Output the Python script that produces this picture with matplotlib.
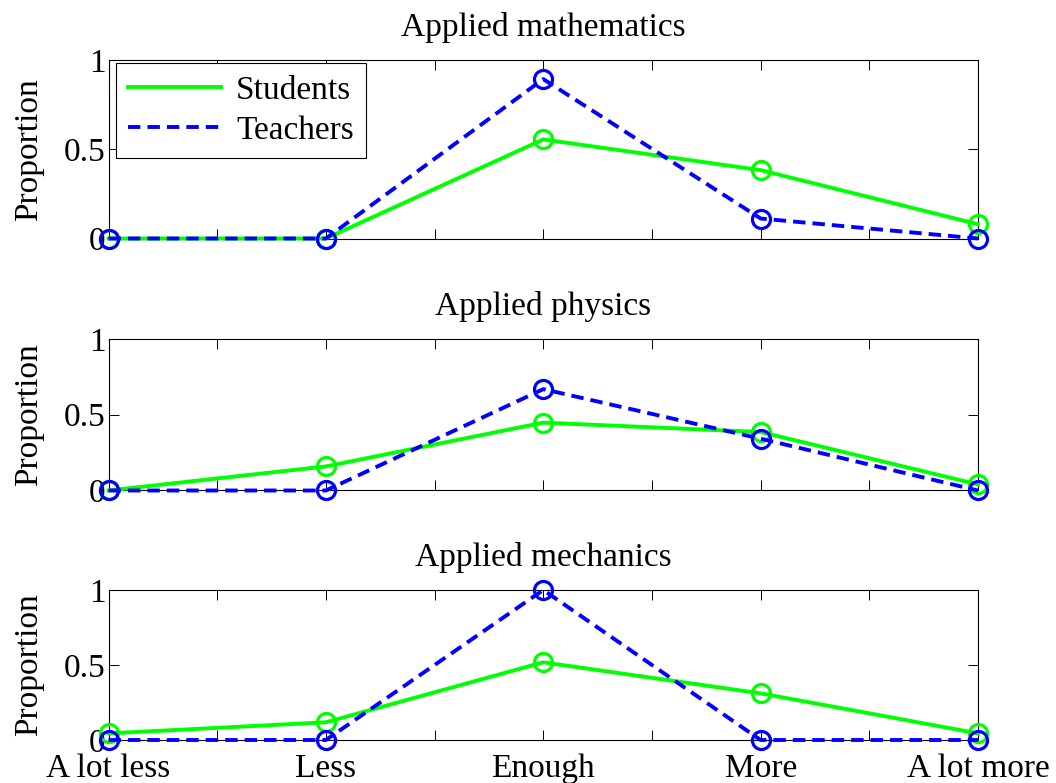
import matplotlib
matplotlib.use("Agg")
import matplotlib.pyplot as plt
from matplotlib.lines import Line2D
import numpy as np

plt.rcParams['font.family'] = ['Liberation Serif', 'DejaVu Serif']
plt.rcParams['font.size'] = 24

categories = ["A lot less", "Less", "Enough", "More", "A lot more"]
titles = ["Applied mathematics", "Applied physics", "Applied mechanics"]

# proportions
students_math = [0.0, 0.0, 0.555, 0.383, 0.080]
teachers_math = [0.0, 0.0, 0.893, 0.112, 0.0]
students_phys = [0.0, 0.159, 0.448, 0.386, 0.040]
teachers_phys = [0.0, 0.0, 0.669, 0.342, 0.0]
students_mech = [0.044, 0.118, 0.518, 0.311, 0.044]
teachers_mech = [0.0, 0.0, 1.0, 0.0, 0.0]

students = [students_math, students_phys, students_mech]
teachers = [teachers_math, teachers_phys, teachers_mech]

green = "#00ff00"
blue = "#0000ff"
dash = (0, (3.2, 1.8))

W, H = 1056, 783
fig = plt.figure(figsize=(W / 100, H / 100), dpi=100)

# axes boxes in pixels: (left, top, right, bottom)
boxes = [(108.5, 60, 978, 238.5), (108.5, 339, 978, 490.5), (108.5, 590, 978, 740)]

x = np.arange(1, len(categories) + 1)

for i, (l, t, r, b) in enumerate(boxes):
    ax = fig.add_axes([l / W, 1 - b / H, (r - l) / W, (b - t) / H])
    ax.plot(x, students[i], color=green, lw=2.8, marker='o', ms=13,
            mfc='none', mec=green, mew=2.3, clip_on=False, zorder=3)
    ax.plot(x, teachers[i], color=blue, lw=2.8, ls=dash, marker='o', ms=13,
            mfc='none', mec=blue, mew=2.3, clip_on=False, zorder=4)
    ax.set_xlim(1, 5)
    ax.set_ylim(0, 1)
    ax.set_yticks([0, 0.5, 1])
    ax.set_yticklabels(["0", "0.5", "1"])
    ax.set_xticks(np.arange(1, 5.01, 0.5))
    if i == 2:
        labs = []
        for k in range(9):
            labs.append(categories[k // 2] if k % 2 == 0 else "")
        ax.set_xticklabels(labs)
    else:
        ax.set_xticklabels([])
    ax.tick_params(direction='in', length=7, width=0.7, top=True, right=True, pad=2)
    ax.tick_params(axis='x', pad=10)
    for s in ax.spines.values():
        s.set_linewidth(0.8)
    ax.set_ylabel("Proportion", labelpad=14)
    ax.set_title(titles[i], fontsize=24, pad=17)

    if i == 0:
        handles = [Line2D([], [], color=green, lw=2.8),
                   Line2D([], [], color=blue, lw=2.8, ls=dash)]
        leg = ax.legend(handles, ["Students", "Teachers"], loc='upper left',
                        fancybox=False, framealpha=1, edgecolor='black',
                        borderaxespad=0.1, handlelength=2.8, borderpad=0.35,
                        labelspacing=0.3, handletextpad=0.45,
                        bbox_to_anchor=(0.005, 1.0))
        leg.get_frame().set_linewidth(0.8)

fig.savefig("out.png", dpi=100)
